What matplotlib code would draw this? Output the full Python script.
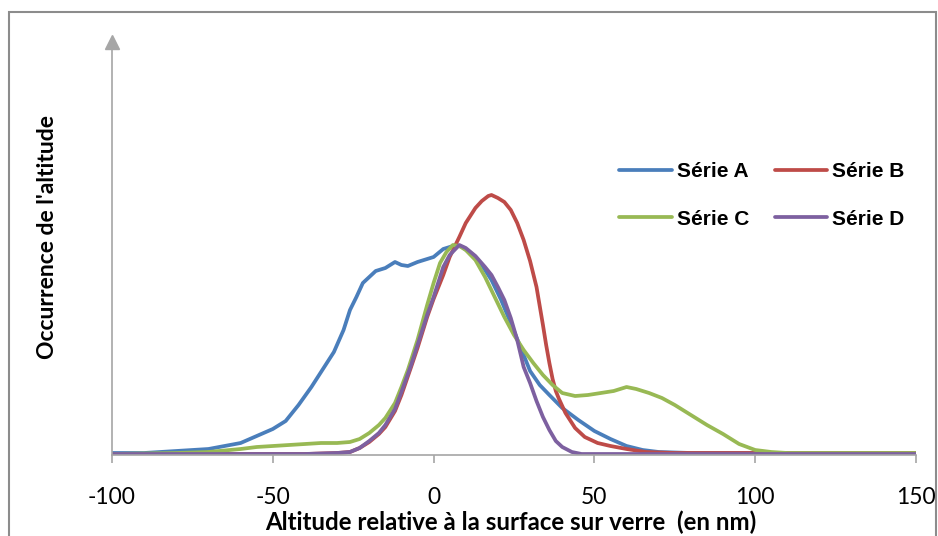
import matplotlib
matplotlib.use("Agg")
import matplotlib.pyplot as plt
from matplotlib.patches import Rectangle

# ---- data ----
a_x = [-100, -90, -80, -70, -65, -60, -55, -50, -46, -42, -38, -34, -31, -28, -26, -24, -22, -20, -18, -15,
       -12, -10, -8, -5, -2, 0, 3, 5, 7, 9, 12, 15, 18, 21, 24, 27, 30, 33, 36, 40, 45, 50, 55, 60, 65, 70, 80, 100, 150]
a_y = [2, 2, 4, 6, 9, 12, 19, 26, 34, 50, 68, 88, 103, 125, 145, 158, 172, 178, 184, 187,
       193, 190, 189, 193, 196, 198, 206, 208, 210, 208, 200, 190, 175, 155, 132, 108, 84, 70, 60, 47, 35, 24, 16, 9, 5, 3, 2, 2, 2]

b_x = [-100, -40, -30, -26, -23, -20, -17, -15, -12, -10, -7, -5, -2, 0, 3, 5, 8, 10, 13, 15, 17, 18, 20, 22,
       24, 26, 28, 30, 32, 34, 35, 36, 37, 38, 39, 41, 44, 47, 51, 55, 60, 66, 75, 150]
b_y = [1, 1, 2, 3, 7, 13, 21, 28, 44, 60, 88, 107, 138, 156, 180, 198, 218, 232, 247, 254, 259, 260, 257, 253,
       245, 232, 215, 194, 168, 130, 110, 92, 76, 64, 56, 42, 27, 18, 12, 9, 6, 3, 2, 2]

c_x = [-100, -80, -70, -60, -55, -50, -45, -40, -35, -30, -26, -23, -20, -17, -15, -12, -10, -8, -5, -2, 0, 2, 4, 6,
       8, 10, 13, 16, 19, 22, 25, 28, 31, 34, 37, 40, 44, 48, 52, 56, 60, 63, 67, 71, 75, 80, 85, 90, 95, 100, 105, 110, 150]
c_y = [1, 2, 3, 6, 8, 9, 10, 11, 12, 12, 13, 16, 22, 30, 37, 52, 68, 85, 115, 150, 172, 192, 203, 210,
       209, 205, 195, 178, 158, 138, 120, 105, 92, 80, 70, 62, 59, 60, 62, 64, 68, 66, 62, 57, 50, 40, 30, 21, 11, 5, 3, 2, 2]

d_x = [-100, -60, -40, -30, -26, -23, -20, -17, -15, -12, -10, -7, -5, -2, 0, 3, 5, 8, 10, 13, 16, 18, 20, 22,
       24, 26, 28, 30, 32, 34, 36, 38, 40, 43, 46, 150]
d_y = [1, 1, 1, 2, 3, 7, 14, 22, 30, 46, 63, 90, 110, 140, 158, 188, 200, 210, 207, 199, 188, 180, 168, 155,
       137, 115, 88, 72, 54, 38, 25, 14, 8, 3, 1, 1]

labels = ["Série A", "Série B", "Série C", "Série D"]
colors = ["#4A7EBB", "#BE4B48", "#98B954", "#7D60A0"]
x_ticks = [-100, -50, 0, 50, 100, 150]
x_label = "Altitude relative à la surface sur verre  (en nm)"
y_label = "Occurrence de l'altitude"

calib = ["Lato", "Open Sans", "DejaVu Sans"]
arial = ["Liberation Sans", "DejaVu Sans"]

W, H = 938, 536
fig = plt.figure(figsize=(W / 100, H / 100), dpi=100)
fig.patch.set_facecolor("white")

# outer border
fig.patches.append(Rectangle((9 / W, -0.02), (936 - 9) / W, 1 - 12 / H + 0.02,
                             transform=fig.transFigure, fill=False,
                             edgecolor="#8C8C8C", linewidth=1.5))

ax = fig.add_axes([112 / W, 1 - 455 / H, (916 - 112) / W, (455 - 42) / H])
ax.set_xlim(-100, 150)
ax.set_ylim(0, 413)

series = [(a_x, a_y), (b_x, b_y), (c_x, c_y), (d_x, d_y)]
handles = []
for (xs, ys), lab, col in zip(series, labels, colors):
    h, = ax.plot(xs, ys, color=col, lw=2.7, label=lab, solid_capstyle="round", solid_joinstyle="round")
    handles.append(h)

for s in ["top", "right"]:
    ax.spines[s].set_visible(False)
for s in ["left", "bottom"]:
    ax.spines[s].set_color("#A6A6A6")
    ax.spines[s].set_linewidth(1.2)

ax.set_yticks([])
ax.set_xticks(x_ticks)
ax.set_xticklabels([str(t) for t in x_ticks], family=calib, fontsize=16.5)
ax.tick_params(axis="x", direction="out", length=6, color="#A6A6A6", width=1.2, pad=17)

# arrow head on y axis
ax.plot([0], [1.0], marker="^", markersize=10, color="#A6A6A6", transform=ax.transAxes, clip_on=False)

fig.text(511 / W, 1 - 522 / H, x_label, ha="center", va="center", fontsize=17.3, family=calib, fontweight="bold")
fig.text(47 / W, 1 - 237 / H, y_label, ha="center", va="center", rotation=90, fontsize=16.5,
         family=calib, fontweight="bold")

order = [0, 2, 1, 3]
leg = ax.legend([handles[i] for i in order], [labels[i] for i in order], ncol=2,
                loc="upper left", bbox_to_anchor=(609 / W, 1 - 152 / H), bbox_transform=fig.transFigure,
                frameon=False, prop={"family": arial, "weight": "bold", "size": 15},
                handlelength=2.5, handletextpad=0.24, columnspacing=1.25, labelspacing=1.35, borderpad=0)

fig.savefig("out.png", dpi=100)
